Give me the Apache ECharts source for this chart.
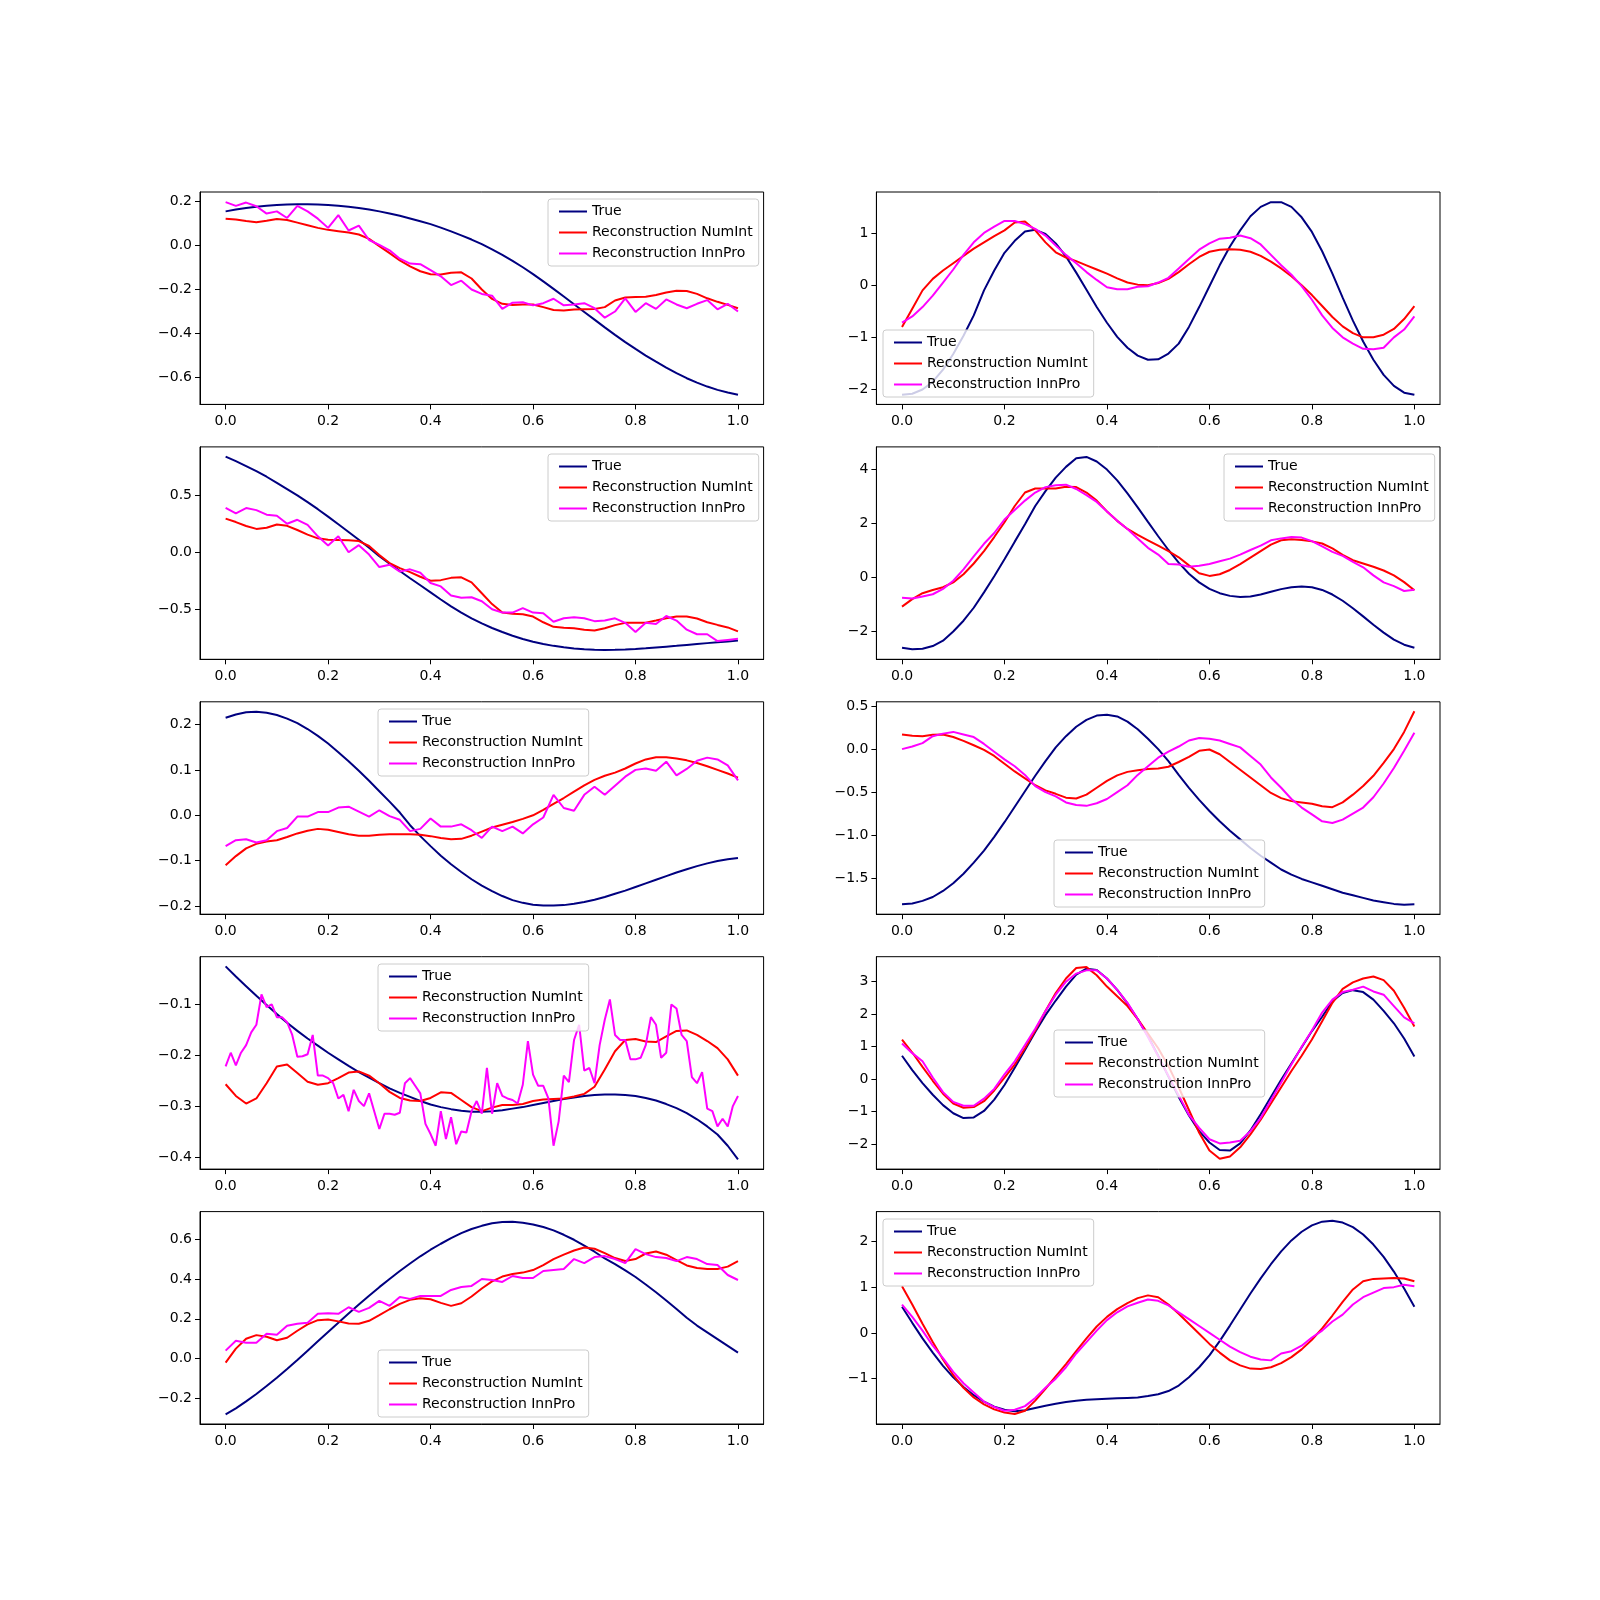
<!DOCTYPE html>
<html>
<head>
<meta charset="utf-8">
<title>Reconstruction</title>
<script src="https://cdn.jsdelivr.net/npm/echarts@6/dist/echarts.min.js"></script>
<style>
  html, body { margin: 0; padding: 0; background: #fff; }
  #chart { width: 1600px; height: 1600px; }
</style>
</head>
<body>
<div id="chart"></div>
<script>
// ---- data ----
const seriesNames = ['True', 'Reconstruction NumInt', 'Reconstruction InnPro']
const xTicks = [0, 0.2, 0.4, 0.6, 0.8, 1.0]

const xs = [
  0, 0.02, 0.04, 0.06, 0.08, 0.1, 0.12, 0.14, 0.16, 0.18,
  0.2, 0.22, 0.24, 0.26, 0.28, 0.3, 0.32, 0.34, 0.36, 0.38,
  0.4, 0.42, 0.44, 0.46, 0.48, 0.5, 0.52, 0.54, 0.56, 0.58,
  0.6, 0.62, 0.64, 0.66, 0.68, 0.7, 0.72, 0.74, 0.76, 0.78,
  0.8, 0.82, 0.84, 0.86, 0.88, 0.9, 0.92, 0.94, 0.96, 0.98,
  1.0,
]
const xsFine = [
  0, 0.01, 0.02, 0.03, 0.04, 0.05, 0.06, 0.07, 0.08, 0.09,
  0.1, 0.11, 0.12, 0.13, 0.14, 0.15, 0.16, 0.17, 0.18, 0.19,
  0.2, 0.21, 0.22, 0.23, 0.24, 0.25, 0.26, 0.27, 0.28, 0.29,
  0.3, 0.31, 0.32, 0.33, 0.34, 0.35, 0.36, 0.37, 0.38, 0.39,
  0.4, 0.41, 0.42, 0.43, 0.44, 0.45, 0.46, 0.47, 0.48, 0.49,
  0.5, 0.51, 0.52, 0.53, 0.54, 0.55, 0.56, 0.57, 0.58, 0.59,
  0.6, 0.61, 0.62, 0.63, 0.64, 0.65, 0.66, 0.67, 0.68, 0.69,
  0.7, 0.71, 0.72, 0.73, 0.74, 0.75, 0.76, 0.77, 0.78, 0.79,
  0.8, 0.81, 0.82, 0.83, 0.84, 0.85, 0.86, 0.87, 0.88, 0.89,
  0.9, 0.91, 0.92, 0.93, 0.94, 0.95, 0.96, 0.97, 0.98, 0.99,
  1.0,
]

// panel 1
const p1True = [
  0.155, 0.163, 0.170, 0.176, 0.180, 0.184, 0.186, 0.187, 0.187, 0.186,
  0.184, 0.180, 0.176, 0.170, 0.163, 0.155, 0.145, 0.135, 0.123, 0.110,
  0.097, 0.081, 0.064, 0.046, 0.027, 0.006, -0.018, -0.043, -0.070, -0.099,
  -0.130, -0.163, -0.197, -0.232, -0.267, -0.302, -0.337, -0.372, -0.406, -0.439,
  -0.470, -0.500, -0.528, -0.555, -0.580, -0.603, -0.623, -0.641, -0.656, -0.668,
  -0.678,
]
const p1NumInt = [
  0.122, 0.118, 0.111, 0.106, 0.112, 0.120, 0.116, 0.104, 0.092, 0.080,
  0.071, 0.065, 0.059, 0.050, 0.030, -0.003, -0.035, -0.068, -0.095, -0.117,
  -0.131, -0.132, -0.124, -0.122, -0.150, -0.200, -0.243, -0.265, -0.270, -0.268,
  -0.268, -0.280, -0.293, -0.295, -0.291, -0.290, -0.289, -0.280, -0.250, -0.236,
  -0.234, -0.233, -0.225, -0.214, -0.206, -0.207, -0.220, -0.240, -0.256, -0.270,
  -0.285,
]
const p1InnPro = [
  0.197, 0.180, 0.195, 0.178, 0.145, 0.155, 0.125, 0.180, 0.155, 0.122,
  0.080, 0.138, 0.068, 0.090, 0.025, 0.003, -0.022, -0.060, -0.082, -0.085,
  -0.112, -0.140, -0.180, -0.160, -0.200, -0.220, -0.228, -0.288, -0.260, -0.258,
  -0.272, -0.262, -0.242, -0.272, -0.268, -0.262, -0.285, -0.328, -0.300, -0.240,
  -0.302, -0.262, -0.288, -0.245, -0.268, -0.285, -0.265, -0.248, -0.290, -0.265,
  -0.300,
]
const yTicks1 = [-0.6, -0.4, -0.2, 0, 0.2]

// panel 2
const p2True = [
  -2.10, -2.08, -2.00, -1.85, -1.62, -1.32, -0.97, -0.58, -0.10, 0.28,
  0.62, 0.85, 1.03, 1.06, 0.98, 0.80, 0.55, 0.24, -0.09, -0.42,
  -0.72, -0.99, -1.20, -1.35, -1.43, -1.42, -1.31, -1.12, -0.80, -0.42,
  -0.02, 0.38, 0.74, 1.05, 1.32, 1.50, 1.59, 1.59, 1.50, 1.30,
  1.02, 0.65, 0.22, -0.24, -0.68, -1.08, -1.43, -1.72, -1.93, -2.06,
  -2.10,
]
const p2NumInt = [
  -0.80, -0.45, -0.10, 0.12, 0.28, 0.42, 0.56, 0.70, 0.82, 0.94,
  1.05, 1.20, 1.22, 1.05, 0.82, 0.63, 0.53, 0.46, 0.38, 0.30,
  0.22, 0.13, 0.05, 0.01, 0.00, 0.04, 0.12, 0.25, 0.40, 0.54,
  0.64, 0.68, 0.69, 0.68, 0.64, 0.56, 0.45, 0.32, 0.17, 0.00,
  -0.19, -0.40, -0.61, -0.79, -0.92, -1.00, -1.00, -0.95, -0.84, -0.65,
  -0.40,
]
const p2InnPro = [
  -0.72, -0.60, -0.42, -0.20, 0.05, 0.30, 0.58, 0.82, 1.00, 1.12,
  1.23, 1.23, 1.17, 1.08, 0.95, 0.76, 0.58, 0.42, 0.25, 0.10,
  -0.04, -0.08, -0.08, -0.03, -0.02, 0.05, 0.14, 0.32, 0.50, 0.68,
  0.80, 0.89, 0.91, 0.95, 0.90, 0.78, 0.58, 0.38, 0.20, -0.02,
  -0.28, -0.58, -0.82, -1.00, -1.12, -1.22, -1.23, -1.20, -1.00, -0.85,
  -0.60,
]
const yTicks2 = [-2, -1, 0, 1]

// panel 3
const p3True = [
  0.840, 0.800, 0.757, 0.712, 0.663, 0.610, 0.555, 0.500, 0.440, 0.378,
  0.313, 0.246, 0.178, 0.110, 0.040, -0.035, -0.100, -0.165, -0.228, -0.290,
  -0.352, -0.415, -0.475, -0.530, -0.580, -0.625, -0.665, -0.700, -0.733, -0.762,
  -0.786, -0.806, -0.822, -0.835, -0.845, -0.852, -0.856, -0.858, -0.857, -0.854,
  -0.849, -0.843, -0.836, -0.829, -0.822, -0.814, -0.806, -0.798, -0.790, -0.783,
  -0.776,
]
const p3NumInt = [
  0.295, 0.265, 0.230, 0.205, 0.215, 0.243, 0.232, 0.195, 0.155, 0.122,
  0.110, 0.108, 0.106, 0.098, 0.055, -0.025, -0.095, -0.140, -0.175, -0.215,
  -0.250, -0.245, -0.225, -0.220, -0.265, -0.360, -0.455, -0.530, -0.540, -0.545,
  -0.565, -0.615, -0.655, -0.662, -0.668, -0.680, -0.688, -0.668, -0.640, -0.620,
  -0.618, -0.618, -0.600, -0.580, -0.565, -0.565, -0.582, -0.615, -0.638, -0.660,
  -0.695,
]
const p3InnPro = [
  0.390, 0.342, 0.388, 0.370, 0.330, 0.320, 0.250, 0.285, 0.240, 0.140,
  0.060, 0.140, 0.000, 0.062, -0.020, -0.130, -0.110, -0.170, -0.150, -0.180,
  -0.270, -0.300, -0.380, -0.400, -0.395, -0.430, -0.500, -0.530, -0.530, -0.490,
  -0.530, -0.535, -0.610, -0.580, -0.570, -0.580, -0.605, -0.600, -0.580, -0.620,
  -0.700, -0.620, -0.630, -0.560, -0.600, -0.680, -0.720, -0.720, -0.780, -0.770,
  -0.760,
]
const yTicks3 = [-0.5, 0, 0.5]

// panel 4
const p4True = [
  -2.60, -2.66, -2.64, -2.54, -2.34, -2.00, -1.60, -1.12, -0.55, 0.05,
  0.68, 1.33, 1.97, 2.65, 3.20, 3.70, 4.10, 4.42, 4.47, 4.30,
  4.00, 3.60, 3.12, 2.60, 2.06, 1.53, 1.02, 0.55, 0.14, -0.18,
  -0.42, -0.58, -0.68, -0.72, -0.70, -0.63, -0.53, -0.43, -0.36, -0.33,
  -0.36, -0.46, -0.63, -0.86, -1.14, -1.44, -1.75, -2.04, -2.30, -2.49,
  -2.60,
]
const p4NumInt = [
  -1.08, -0.80, -0.58, -0.46, -0.36, -0.18, 0.12, 0.52, 0.98, 1.50,
  2.05, 2.65, 3.15, 3.30, 3.30, 3.30, 3.36, 3.35, 3.15, 2.85,
  2.45, 2.10, 1.80, 1.58, 1.38, 1.18, 0.98, 0.75, 0.45, 0.16,
  0.06, 0.12, 0.28, 0.50, 0.74, 0.98, 1.22, 1.38, 1.42, 1.39,
  1.34, 1.26, 1.08, 0.84, 0.64, 0.52, 0.40, 0.26, 0.08, -0.17,
  -0.47,
]
const p4InnPro = [
  -0.75, -0.78, -0.70, -0.62, -0.42, -0.12, 0.30, 0.78, 1.25, 1.65,
  2.15, 2.50, 2.85, 3.15, 3.35, 3.42, 3.44, 3.28, 3.05, 2.80,
  2.45, 2.10, 1.80, 1.45, 1.10, 0.85, 0.50, 0.48, 0.40, 0.44,
  0.50, 0.60, 0.70, 0.85, 1.02, 1.18, 1.38, 1.45, 1.50, 1.48,
  1.35, 1.15, 0.95, 0.80, 0.58, 0.38, 0.08, -0.18, -0.32, -0.50,
  -0.45,
]
const yTicks4 = [-2, 0, 2, 4]

// panel 5
const p5True = [
  0.215, 0.222, 0.227, 0.228, 0.226, 0.221, 0.213, 0.203, 0.190, 0.175,
  0.158, 0.139, 0.119, 0.098, 0.076, 0.053, 0.030, 0.006, -0.022, -0.046,
  -0.068, -0.089, -0.108, -0.125, -0.141, -0.155, -0.167, -0.178, -0.187, -0.193,
  -0.197, -0.199, -0.199, -0.198, -0.195, -0.191, -0.186, -0.180, -0.173, -0.166,
  -0.158, -0.150, -0.142, -0.134, -0.126, -0.119, -0.112, -0.106, -0.101, -0.097,
  -0.094,
]
const p5NumInt = [
  -0.110, -0.090, -0.073, -0.063, -0.058, -0.055, -0.048, -0.040, -0.034, -0.030,
  -0.032, -0.037, -0.042, -0.045, -0.045, -0.043, -0.042, -0.042, -0.042, -0.043,
  -0.046, -0.050, -0.053, -0.052, -0.045, -0.036, -0.027, -0.021, -0.015, -0.008,
  0.000, 0.012, 0.025, 0.038, 0.052, 0.066, 0.078, 0.087, 0.094, 0.103,
  0.114, 0.123, 0.128, 0.128, 0.125, 0.121, 0.115, 0.108, 0.100, 0.092,
  0.083,
]
const p5InnPro = [
  -0.068, -0.055, -0.053, -0.060, -0.055, -0.035, -0.028, -0.003, -0.003, 0.007,
  0.007, 0.017, 0.019, 0.008, -0.003, 0.011, -0.002, -0.010, -0.035, -0.030,
  -0.007, -0.025, -0.025, -0.020, -0.033, -0.050, -0.025, -0.035, -0.025, -0.040,
  -0.020, -0.005, 0.045, 0.016, 0.010, 0.045, 0.063, 0.045, 0.065, 0.085,
  0.100, 0.103, 0.098, 0.118, 0.088, 0.102, 0.120, 0.127, 0.123, 0.110,
  0.077,
]
const yTicks5 = [-0.2, -0.1, 0, 0.1, 0.2]

// panel 6
const p6True = [
  -1.805, -1.795, -1.765, -1.72, -1.65, -1.56, -1.45, -1.32, -1.18, -1.02,
  -0.85, -0.67, -0.49, -0.31, -0.14, 0.02, 0.15, 0.26, 0.34, 0.39,
  0.40, 0.38, 0.32, 0.23, 0.12, 0.00, -0.14, -0.30, -0.45, -0.59,
  -0.72, -0.84, -0.95, -1.05, -1.15, -1.24, -1.32, -1.40, -1.46, -1.51,
  -1.55, -1.59, -1.63, -1.67, -1.70, -1.73, -1.76, -1.78, -1.80, -1.81,
  -1.805,
]
const p6NumInt = [
  0.170, 0.155, 0.150, 0.168, 0.170, 0.140, 0.095, 0.045, -0.010, -0.080,
  -0.170, -0.260, -0.340, -0.420, -0.480, -0.520, -0.565, -0.575, -0.530, -0.450,
  -0.370, -0.305, -0.265, -0.245, -0.232, -0.225, -0.205, -0.150, -0.090, -0.020,
  -0.005, -0.060, -0.150, -0.240, -0.330, -0.420, -0.510, -0.570, -0.605, -0.620,
  -0.635, -0.665, -0.675, -0.620, -0.530, -0.430, -0.310, -0.160, 0.000, 0.200,
  0.440,
]
const p6InnPro = [
  0.000, 0.030, 0.070, 0.150, 0.180, 0.200, 0.170, 0.140, 0.060, -0.030,
  -0.120, -0.200, -0.300, -0.430, -0.500, -0.550, -0.620, -0.650, -0.660, -0.630,
  -0.580, -0.500, -0.420, -0.300, -0.200, -0.100, -0.030, 0.030, 0.100, 0.130,
  0.120, 0.100, 0.060, 0.020, -0.080, -0.180, -0.330, -0.450, -0.580, -0.680,
  -0.760, -0.840, -0.860, -0.820, -0.750, -0.680, -0.560, -0.400, -0.220, -0.020,
  0.190,
]
const yTicks6 = [-1.5, -1, -0.5, 0, 0.5]

// panel 7
const p7True = [
  -0.025, -0.045, -0.064, -0.083, -0.101, -0.119, -0.136, -0.152, -0.167, -0.181,
  -0.195, -0.208, -0.221, -0.233, -0.244, -0.255, -0.265, -0.274, -0.282, -0.290,
  -0.297, -0.302, -0.306, -0.309, -0.311, -0.311, -0.310, -0.308, -0.305, -0.302,
  -0.298, -0.294, -0.290, -0.286, -0.283, -0.280, -0.278, -0.277, -0.277, -0.278,
  -0.280, -0.284, -0.289, -0.296, -0.304, -0.314, -0.326, -0.340, -0.356, -0.378,
  -0.405,
]
const p7NumInt = [
  -0.257, -0.280, -0.295, -0.285, -0.255, -0.222, -0.218, -0.235, -0.252, -0.258,
  -0.255, -0.245, -0.234, -0.232, -0.240, -0.255, -0.272, -0.284, -0.289, -0.290,
  -0.284, -0.273, -0.274, -0.288, -0.302, -0.310, -0.303, -0.298, -0.298, -0.296,
  -0.290, -0.287, -0.286, -0.285, -0.281, -0.276, -0.262, -0.228, -0.192, -0.170,
  -0.168, -0.173, -0.174, -0.163, -0.152, -0.151, -0.160, -0.172, -0.186, -0.208,
  -0.240,
]
// this one is sampled on the fine grid, it is very noisy
const p7InnPro = [
  -0.222, -0.195, -0.220, -0.195, -0.180, -0.155, -0.140, -0.080, -0.105, -0.100,
  -0.125, -0.125, -0.135, -0.160, -0.203, -0.202, -0.198, -0.160, -0.240, -0.240,
  -0.245, -0.255, -0.285, -0.278, -0.310, -0.268, -0.290, -0.300, -0.275, -0.310,
  -0.345, -0.315, -0.315, -0.317, -0.313, -0.255, -0.245, -0.260, -0.275, -0.335,
  -0.355, -0.378, -0.310, -0.365, -0.322, -0.375, -0.350, -0.352, -0.310, -0.290,
  -0.315, -0.225, -0.315, -0.255, -0.280, -0.285, -0.288, -0.295, -0.258, -0.172,
  -0.238, -0.260, -0.260, -0.285, -0.378, -0.330, -0.240, -0.253, -0.170, -0.140,
  -0.230, -0.225, -0.255, -0.180, -0.130, -0.090, -0.160, -0.170, -0.170, -0.208,
  -0.208, -0.205, -0.180, -0.125, -0.140, -0.205, -0.195, -0.100, -0.108, -0.160,
  -0.172, -0.243, -0.255, -0.233, -0.305, -0.310, -0.340, -0.325, -0.340, -0.300,
  -0.280,
]
const yTicks7 = [-0.4, -0.3, -0.2, -0.1]

// panel 8
const p8True = [
  0.72, 0.28, -0.12, -0.48, -0.80, -1.05, -1.20, -1.18, -0.98, -0.63,
  -0.18, 0.35, 0.90, 1.45, 1.97, 2.42, 2.85, 3.22, 3.40, 3.36,
  3.10, 2.75, 2.33, 1.85, 1.32, 0.72, 0.08, -0.55, -1.12, -1.60,
  -1.95, -2.18, -2.20, -1.98, -1.58, -1.08, -0.55, -0.02, 0.48, 0.98,
  1.48, 1.92, 2.40, 2.65, 2.74, 2.68, 2.45, 2.10, 1.72, 1.25,
  0.70,
]
const p8NumInt = [
  1.22, 0.82, 0.38, -0.05, -0.45, -0.75, -0.88, -0.86, -0.68, -0.35,
  0.05, 0.45, 0.95, 1.50, 2.10, 2.65, 3.10, 3.42, 3.45, 3.20,
  2.85, 2.55, 2.25, 1.85, 1.40, 0.95, 0.40, -0.25, -0.95, -1.65,
  -2.20, -2.45, -2.38, -2.10, -1.70, -1.25, -0.75, -0.25, 0.25, 0.72,
  1.22, 1.78, 2.35, 2.78, 2.98, 3.10, 3.16, 3.05, 2.72, 2.20,
  1.62,
]
const p8InnPro = [
  1.10, 0.80, 0.55, 0.05, -0.40, -0.70, -0.82, -0.82, -0.60, -0.30,
  0.15, 0.55, 1.05, 1.55, 2.10, 2.60, 3.00, 3.25, 3.35, 3.35,
  3.10, 2.75, 2.35, 1.85, 1.30, 0.70, 0.10, -0.50, -1.10, -1.50,
  -1.85, -1.98, -1.95, -1.90, -1.60, -1.20, -0.65, -0.10, 0.45, 1.00,
  1.50, 2.05, 2.45, 2.68, 2.75, 2.85, 2.70, 2.60, 2.25, 1.90,
  1.72,
]
const yTicks8 = [-2, -1, 0, 1, 2, 3]

// panel 9
const p9True = [
  -0.280, -0.250, -0.215, -0.178, -0.138, -0.096, -0.052, -0.007, 0.040, 0.087,
  0.134, 0.180, 0.226, 0.272, 0.316, 0.359, 0.400, 0.440, 0.478, 0.514,
  0.547, 0.577, 0.605, 0.630, 0.651, 0.667, 0.680, 0.686, 0.687, 0.683,
  0.674, 0.661, 0.644, 0.622, 0.597, 0.568, 0.537, 0.503, 0.475, 0.443,
  0.410, 0.372, 0.333, 0.292, 0.249, 0.205, 0.166, 0.132, 0.098, 0.064,
  0.030,
]
const p9NumInt = [
  -0.020, 0.050, 0.100, 0.118, 0.110, 0.092, 0.105, 0.140, 0.172, 0.193,
  0.196, 0.187, 0.176, 0.175, 0.190, 0.218, 0.248, 0.275, 0.295, 0.303,
  0.298, 0.280, 0.265, 0.278, 0.312, 0.352, 0.388, 0.412, 0.425, 0.432,
  0.445, 0.470, 0.500, 0.522, 0.543, 0.558, 0.552, 0.530, 0.505, 0.490,
  0.500, 0.528, 0.538, 0.522, 0.495, 0.468, 0.455, 0.450, 0.450, 0.462,
  0.490,
]
const p9InnPro = [
  0.040, 0.090, 0.080, 0.080, 0.125, 0.120, 0.165, 0.175, 0.180, 0.225,
  0.228, 0.225, 0.258, 0.235, 0.255, 0.290, 0.265, 0.310, 0.300, 0.315,
  0.315, 0.315, 0.345, 0.360, 0.365, 0.400, 0.395, 0.385, 0.415, 0.405,
  0.405, 0.440, 0.445, 0.450, 0.500, 0.480, 0.510, 0.515, 0.500, 0.480,
  0.550, 0.525, 0.510, 0.505, 0.490, 0.510, 0.500, 0.475, 0.470, 0.420,
  0.395,
]
const yTicks9 = [-0.2, 0, 0.2, 0.4, 0.6]

// panel 10
const p10True = [
  0.57, 0.22, -0.12, -0.43, -0.72, -0.97, -1.18, -1.36, -1.50, -1.61,
  -1.68, -1.71, -1.69, -1.64, -1.59, -1.55, -1.51, -1.48, -1.46, -1.45,
  -1.44, -1.43, -1.42, -1.41, -1.38, -1.34, -1.27, -1.15, -0.97, -0.75,
  -0.49, -0.18, 0.16, 0.51, 0.86, 1.19, 1.50, 1.78, 2.02, 2.21,
  2.35, 2.43, 2.45, 2.41, 2.31, 2.15, 1.93, 1.66, 1.34, 0.97,
  0.57,
]
const p10NumInt = [
  1.02, 0.62, 0.20, -0.20, -0.58, -0.92, -1.20, -1.41, -1.56, -1.67,
  -1.74, -1.77, -1.70, -1.48, -1.22, -0.95, -0.68, -0.40, -0.12, 0.14,
  0.35, 0.52, 0.65, 0.76, 0.82, 0.78, 0.62, 0.42, 0.20, -0.02,
  -0.24, -0.43, -0.60, -0.71, -0.78, -0.79, -0.75, -0.66, -0.53, -0.36,
  -0.15, 0.10, 0.38, 0.68, 0.95, 1.13, 1.18, 1.19, 1.20, 1.19,
  1.13,
]
const p10InnPro = [
  0.62, 0.35, 0.05, -0.28, -0.55, -0.85, -1.10, -1.30, -1.50, -1.62,
  -1.70, -1.68, -1.60, -1.42, -1.20, -1.00, -0.75, -0.45, -0.20, 0.05,
  0.28, 0.45, 0.58, 0.66, 0.73, 0.70, 0.60, 0.45, 0.30, 0.15,
  0.00, -0.15, -0.30, -0.42, -0.52, -0.58, -0.60, -0.45, -0.40, -0.28,
  -0.10, 0.05, 0.25, 0.40, 0.62, 0.78, 0.88, 0.98, 1.00, 1.05,
  1.02,
]
const yTicks10 = [-1, 0, 1, 2]

// ---- panels (left→right, top→bottom) ----
const panels = [
  { t: p1True, n: p1NumInt, p: p1InnPro, px: xs, ticks: yTicks1, lim: [-0.722, 0.243], dec: 1 },
  { t: p2True, n: p2NumInt, p: p2InnPro, px: xs, ticks: yTicks2, lim: [-2.285, 1.785], dec: 0 },
  { t: p3True, n: p3NumInt, p: p3InnPro, px: xs, ticks: yTicks3, lim: [-0.94, 0.925], dec: 1 },
  { t: p4True, n: p4NumInt, p: p4InnPro, px: xs, ticks: yTicks4, lim: [-3.03, 4.84], dec: 0 },
  { t: p5True, n: p5NumInt, p: p5InnPro, px: xs, ticks: yTicks5, lim: [-0.218, 0.25], dec: 1 },
  { t: p6True, n: p6NumInt, p: p6InnPro, px: xs, ticks: yTicks6, lim: [-1.92, 0.55], dec: 1 },
  { t: p7True, n: p7NumInt, p: p7InnPro, px: xsFine, ticks: yTicks7, lim: [-0.424, -0.006], dec: 1 },
  { t: p8True, n: p8NumInt, p: p8InnPro, px: xs, ticks: yTicks8, lim: [-2.77, 3.77], dec: 0 },
  { t: p9True, n: p9NumInt, p: p9InnPro, px: xs, ticks: yTicks9, lim: [-0.3285, 0.7385], dec: 1 },
  { t: p10True, n: p10NumInt, p: p10InnPro, px: xs, ticks: yTicks10, lim: [-1.99, 2.65], dec: 0 },
]

// ---- layout ----
const colLeft = [200, 876.4]
const rowTop = [192, 446.9, 701.8, 956.7, 1211.6]
const plotW = 563.6
const plotH = 212.4
const legendPos = [
  [548, 199], [883, 330],
  [548, 454], [1224, 454],
  [378, 709], [1054, 840],
  [378, 964], [1054, 1030],
  [378, 1350], [883, 1219],
]
const colors = ['#000080', '#ff0000', '#ff00ff']
const font = 'DejaVu Sans'

const fmt = (d) => (v) => Number(v).toFixed(d).replace('-', '\u2212')
const pts = (xArr, yArr) => xArr.map((x, k) => [x, yArr[k]])

const grids = []
const xAxes = []
const yAxes = []
const series = []
const legends = []

panels.forEach((pn, i) => {
  const row = Math.floor(i / 2)
  const col = i % 2
  grids.push({
    left: colLeft[col],
    top: rowTop[row],
    width: plotW,
    height: plotH,
    containLabel: false,
    outerBoundsMode: 'none',
    show: true,
    borderColor: '#000',
    borderWidth: 1,
    backgroundColor: 'transparent',
  })
  xAxes.push({
    type: 'value',
    gridIndex: i,
    min: -0.05,
    max: 1.05,
    splitLine: { show: false },
    axisLine: { show: true, onZero: false, lineStyle: { color: '#000', width: 1 } },
    axisTick: { show: true, inside: false, length: 5, customValues: xTicks, lineStyle: { color: '#000', width: 1 } },
    axisLabel: { customValues: xTicks, formatter: fmt(1), color: '#000', fontSize: 14, fontFamily: font, margin: 10 },
  })
  yAxes.push({
    type: 'value',
    gridIndex: i,
    min: pn.lim[0],
    max: pn.lim[1],
    splitLine: { show: false },
    axisLine: { show: true, onZero: false, lineStyle: { color: '#000', width: 1 } },
    axisTick: { show: true, inside: false, length: 5, customValues: pn.ticks, lineStyle: { color: '#000', width: 1 } },
    axisLabel: { customValues: pn.ticks, formatter: fmt(pn.dec), color: '#000', fontSize: 14, fontFamily: font, margin: 8 },
  })
  const lines = [pts(xs, pn.t), pts(xs, pn.n), pts(pn.px, pn.p)]
  lines.forEach((data, k) => {
    series.push({
      name: seriesNames[k],
      type: 'line',
      xAxisIndex: i,
      yAxisIndex: i,
      data: data,
      symbol: 'none',
      color: colors[k],
      lineStyle: { color: colors[k], width: 2 },
      animation: false,
    })
  })
  legends.push({
    left: legendPos[i][0],
    top: legendPos[i][1],
    orient: 'vertical',
    data: seriesNames,
    icon: 'rect',
    itemWidth: 28,
    itemHeight: 2,
    itemGap: 7,
    selectedMode: false,
    padding: [5.5, 6, 5.5, 11],
    backgroundColor: 'rgba(255,255,255,0.8)',
    borderColor: '#cccccc',
    borderWidth: 1,
    borderRadius: 3,
    textStyle: { color: '#000', fontSize: 14, lineHeight: 14, fontFamily: font },
  })
})

const myChart = echarts.init(document.getElementById('chart'), null, { renderer: 'canvas' })
myChart.setOption({
  backgroundColor: '#ffffff',
  animation: false,
  grid: grids,
  xAxis: xAxes,
  yAxis: yAxes,
  legend: legends,
  series: series,
})
</script>
</body>
</html>
